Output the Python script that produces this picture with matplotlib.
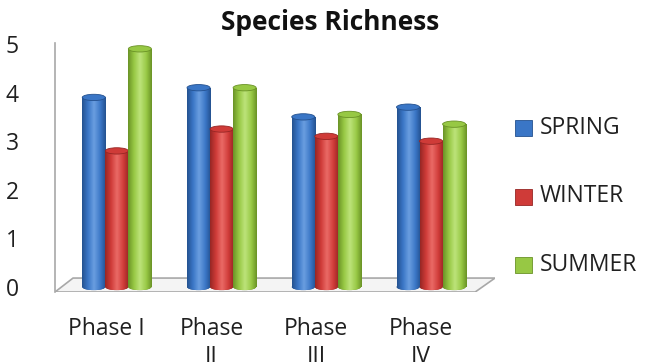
import numpy as np
import matplotlib.pyplot as plt
import matplotlib.transforms as mtransforms
from matplotlib.patches import Ellipse, Polygon, Rectangle
from matplotlib.colors import LinearSegmentedColormap

plt.rcParams['font.family'] = ['Open Sans', 'DejaVu Sans']

categories = ["Phase I", "Phase\nII", "Phase\nIII", "Phase\nIV"]
spring = [3.9, 4.1, 3.5, 3.7]
winter = [2.8, 3.25, 3.1, 3.0]
summer = [4.9, 4.1, 3.55, 3.35]
series_names = ["SPRING", "WINTER", "SUMMER"]

# (dark edge, base, highlight) for each cylinder colour
shades = [("#24518f", "#3a76c6", "#6a9ee0"),
          ("#962624", "#cf3b38", "#ea6a66"),
          ("#6a9226", "#97c844", "#bde37a")]

fig = plt.figure(figsize=(6.6, 3.62), dpi=100)
W, H = 660, 362
ax = fig.add_axes([55 / W, 1 - 292 / H, 440 / W, 249 / H])
ax.set_xlim(-0.59, 3.61)
ax.set_ylim(-0.103, 5.02)
for s in ax.spines.values():
    s.set_visible(False)

# floor and back wall
floor = Polygon([(0, 0), (0.041, 0.056), (1.0, 0.056), (0.955, 0.0)],
                closed=True, transform=ax.transAxes, facecolor="#f4f4f4",
                edgecolor="#a8a8a8", lw=1.2, zorder=0.5)
ax.add_patch(floor)
ax.plot([0, 0], [0, 1], transform=ax.transAxes, color="#a8a8a8", lw=1.2,
        zorder=0.6, clip_on=False)

x = np.arange(len(categories))
bw = 0.22
offsets = [-bw, 0, bw]
cap_h = 0.13


def cylinder(xc, val, cols, z):
    cmap = LinearSegmentedColormap.from_list(
        "cyl", [cols[0], cols[1], cols[2], cols[1], cols[0]],
        N=256)
    grad = np.linspace(0, 1, 256)
    grad = np.interp(grad, [0, 0.35, 0.5, 0.75, 1], [0, 0.35, 0.5, 0.72, 1])
    bar = ax.bar(xc, val, width=bw, bottom=0, color=cols[1], zorder=z,
                 linewidth=0)[0]
    # rounded base
    base = Ellipse((xc, 0), bw, cap_h, facecolor=cols[0], edgecolor="none",
                   zorder=z - 0.01)
    ax.add_patch(base)
    im = ax.imshow(grad[None, :], cmap=cmap, aspect="auto",
                   extent=[xc - bw / 2, xc + bw / 2, 0, val], zorder=z + 0.01,
                   interpolation="bilinear")
    im.set_clip_path(bar)
    bot = ax.imshow(grad[None, :], cmap=cmap, aspect="auto",
                    extent=[xc - bw / 2, xc + bw / 2, -cap_h / 2, 0],
                    zorder=z + 0.01, interpolation="bilinear")
    bot.set_clip_path(base)
    top = Ellipse((xc, val), bw, cap_h, facecolor=cols[1],
                  edgecolor=cols[0], lw=0.6, zorder=z + 0.02)
    ax.add_patch(top)


for k, vals in enumerate([spring, winter, summer]):
    for i, v in enumerate(vals):
        cylinder(x[i] + offsets[k], v, shades[k], 2 + k * 0.1)

ax.set_yticks(range(6))
ax.set_yticklabels([str(i) for i in range(6)], fontsize=16.5, color="#202020")
ax.tick_params(axis="y", length=0, pad=26)
ax.set_xticks(x)
ax.set_xticklabels(categories, fontsize=16.5, color="#202020",
                   linespacing=1.2)
ax.tick_params(axis="x", length=0, pad=18)
shift = mtransforms.ScaledTranslation(-10 / 100, 0, fig.dpi_scale_trans)
for lab in ax.get_xticklabels():
    lab.set_transform(lab.get_transform() + shift)

fig.text(330 / W, 1 - 22 / H, "Species Richness", ha="center", va="center",
         fontsize=19, fontweight="bold", color="#111111")

# legend
for k, name in enumerate(series_names):
    yc = 1 - (128 + k * 68.5) / H
    fig.patches.append(Rectangle((515 / W, yc - 8 / H), 17 / W, 16 / H,
                                 transform=fig.transFigure,
                                 facecolor=shades[k][1],
                                 edgecolor=shades[k][0], lw=0.6))
    fig.text(540 / W, yc, name, ha="left", va="center", fontsize=16.5,
             color="#202020")

fig.savefig("out.png", dpi=100)
